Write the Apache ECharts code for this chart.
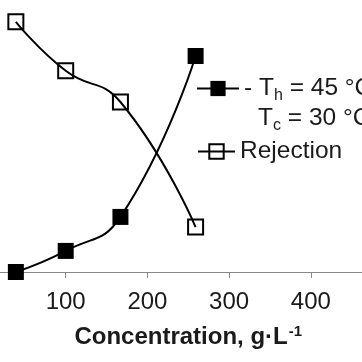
<!DOCTYPE html>
<html><head><meta charset="utf-8">
<script src="https://cdn.jsdelivr.net/npm/echarts@6/dist/echarts.min.js"></script>
<style>html,body{margin:0;padding:0;background:#fff}#c{width:362px;height:362px}</style>
</head><body><div id="c"></div>
<script>
const concentration = [39, 100, 167, 259];
const flux = [0.0, 0.93, 2.43, 9.53];
const rejection = [98.4, 94.8, 92.5, 83.3];
const xTicks = [0, 100, 200, 300, 400, 500];

const chart = echarts.init(document.getElementById('c'), null, {renderer: 'canvas'});
const F = 'Liberation Sans, Arial, sans-serif';
chart.setOption({
  animation: false,
  backgroundColor: '#fff',
  grid: {left: -16, right: -30.5, top: 0, bottom: 90, containLabel: false, outerBoundsMode: 'none'},
  xAxis: {
    type: 'value', min: xTicks[0], max: xTicks[xTicks.length - 1], interval: 100,
    axisLine: {show: true, lineStyle: {color: '#878787', width: 1}},
    axisTick: {show: true, length: 6, lineStyle: {color: '#878787', width: 1}},
    splitLine: {show: false},
    axisLabel: {fontSize: 24, fontFamily: F, color: '#1a1a1a', margin: 18,
      formatter: v => xTicks.includes(v) ? String(v) : ''},
    name: '{b|Concentration, g·L}{s|-1}',
    nameLocation: 'middle', nameGap: 52,
    nameTextStyle: {fontFamily: F, rich: {
      b: {fontSize: 24, fontWeight: 'bold', fontFamily: F, color: '#1a1a1a'},
      s: {fontSize: 15, fontWeight: 'bold', fontFamily: F, color: '#1a1a1a', padding: [0, 0, 12, 1]}
    }}
  },
  yAxis: [
    {type: 'value', min: 0, max: 12, show: false},
    {type: 'value', min: 80, max: 100, show: false}
  ],
  legend: [
    {data: ['flux'], left: 196, top: 76, itemWidth: 42, itemHeight: 19, padding: 0,
     formatter: () => '- T{s|h} = 45 °C',
     textStyle: {fontSize: 24.5, fontFamily: F, color: '#1a1a1a', rich: {
       s: {fontSize: 16, fontFamily: F, color: '#1a1a1a', padding: [0, 0, -14, 0]}}}},
    {data: ['Rejection'], left: 197, top: 139, itemWidth: 37, itemHeight: 18, padding: 0,
     textStyle: {fontSize: 24.5, fontFamily: F, color: '#1a1a1a'}}
  ],
  graphic: [{
    type: 'text', left: 258, top: 106,
    style: {text: 'T{s|c} = 30 °C', fontSize: 24.5, fontFamily: F, fill: '#1a1a1a',
      rich: {s: {fontSize: 16, fontFamily: F, fill: '#1a1a1a', padding: [0, 0, -14, 0]}}}
  }],
  series: [
    {name: 'flux', type: 'line', yAxisIndex: 0, smooth: 0.5, clip: false,
     data: concentration.map((x, i) => [x, flux[i]]),
     symbol: 'rect', symbolSize: 16,
     lineStyle: {color: '#000', width: 2},
     itemStyle: {color: '#000', borderColor: '#000', borderWidth: 0}},
    {name: 'Rejection', type: 'line', yAxisIndex: 1, smooth: 0.5, clip: false,
     data: concentration.map((x, i) => [x, rejection[i]]),
     symbol: 'rect', symbolSize: 15,
     lineStyle: {color: '#000', width: 2},
     itemStyle: {color: 'rgba(0,0,0,0)', borderColor: '#000', borderWidth: 2}}
  ]
});
</script></body></html>
